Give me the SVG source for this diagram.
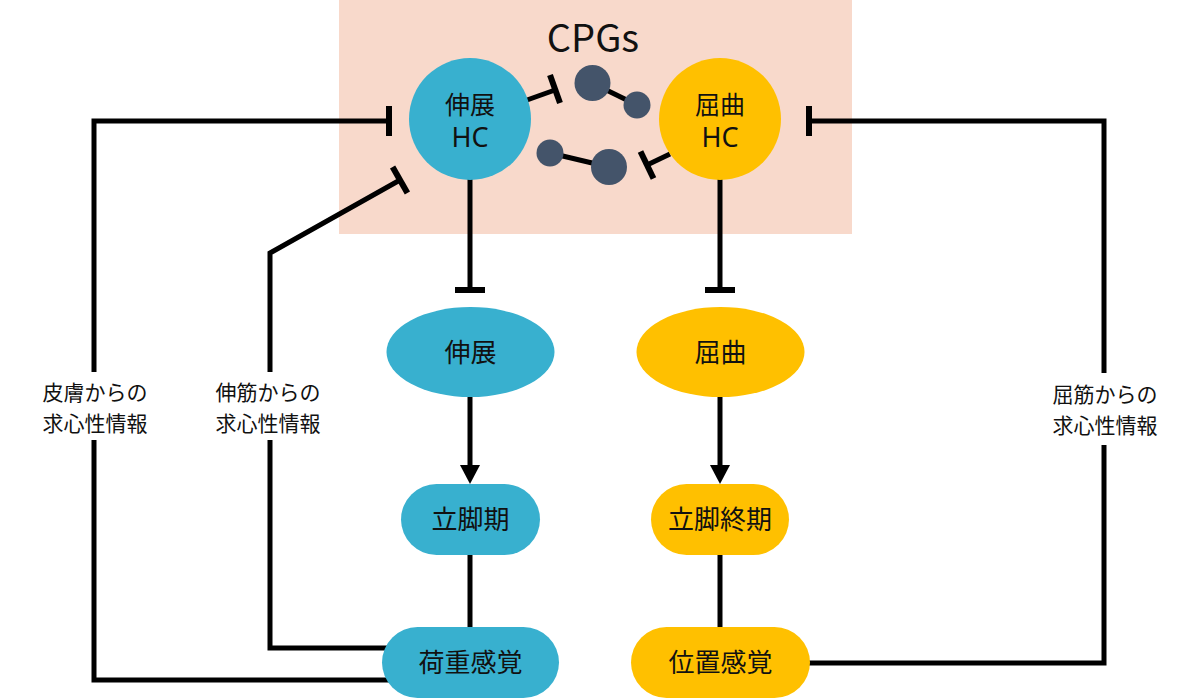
<svg xmlns="http://www.w3.org/2000/svg" width="1200" height="699" viewBox="0 0 1200 699">
<defs>
<style>
.ln{fill:none;stroke:#000;stroke-width:5;stroke-linejoin:miter}
.bar{stroke:#000;stroke-width:6}
.blue{fill:#38B0CF}
.yel{fill:#FFC000}
.dot{fill:#44546A}
.t{font-family:"Noto Sans CJK JP","Noto Sans",sans-serif;fill:#111;text-anchor:middle}
.nt{font-size:26px}
.lb{font-size:21px}
.hc{font-family:"Noto Sans","Noto Sans CJK JP",sans-serif;font-size:27px}
</style>
</defs>
<rect x="0" y="0" width="1200" height="699" fill="#fff"/>
<rect id="cpg-box" x="339" y="0" width="513" height="234" fill="#F8D9CB"/>
<text class="t" x="593" y="52" font-size="38" font-family="Noto Sans, sans-serif">CPGs</text>

<g id="connectors">
<line class="ln" x1="470" y1="179" x2="470" y2="290"/>
<line class="bar" x1="455" y1="290" x2="485" y2="290"/>
<line class="ln" x1="720" y1="179" x2="720" y2="290"/>
<line class="bar" x1="705" y1="290" x2="735" y2="290"/>
<line class="ln" x1="470" y1="397" x2="470" y2="466"/>
<path d="M460,465 L480,465 L470,484 z" fill="#000"/>
<line class="ln" x1="720" y1="397" x2="720" y2="466"/>
<path d="M710,465 L730,465 L720,484 z" fill="#000"/>
<line class="ln" x1="470" y1="555" x2="470" y2="628"/>
<line class="ln" x1="720" y1="555" x2="720" y2="628"/>
<polyline class="ln" points="395,680 94,680 94,121 389,121"/>
<line class="bar" x1="389" y1="106" x2="389" y2="136"/>
<polyline class="ln" points="395,648 270,648 270,253 400,180"/>
<line class="bar" x1="392.6" y1="167" x2="407.4" y2="193"/>
<polyline class="ln" points="800,663 1104,663 1104,121 809,121"/>
<line class="bar" x1="809" y1="106" x2="809" y2="136"/>
<line class="ln" x1="527" y1="100" x2="555" y2="90"/>
<line class="bar" x1="550" y1="75" x2="560" y2="103"/>
<line class="ln" x1="670" y1="154" x2="647" y2="165"/>
<line class="bar" x1="640.5" y1="151.5" x2="653.5" y2="178.5"/>
</g>

<g id="cpg-dots">
<line class="ln" x1="592" y1="83" x2="637" y2="105"/>
<circle class="dot" cx="592.5" cy="83" r="18"/>
<circle class="dot" cx="637" cy="105" r="13.5"/>
<line class="ln" x1="550" y1="153" x2="609" y2="167"/>
<circle class="dot" cx="550" cy="153" r="13.5"/>
<circle class="dot" cx="609" cy="167" r="18"/>
</g>

<g id="ext-hc">
<circle class="blue" cx="470" cy="119" r="61"/>
<text class="t" x="470" y="114" font-size="25">伸展</text>
<text class="t hc" x="470" y="147">HC</text>
</g>
<g id="flex-hc">
<circle class="yel" cx="720" cy="119" r="61"/>
<text class="t" x="720" y="114" font-size="25">屈曲</text>
<text class="t hc" x="720" y="147">HC</text>
</g>

<g id="extension">
<ellipse class="blue" cx="470.5" cy="352" rx="84" ry="45"/>
<text class="t nt" x="470.5" y="362">伸展</text>
</g>
<g id="flexion">
<ellipse class="yel" cx="720.5" cy="352" rx="84" ry="45"/>
<text class="t nt" x="720.5" y="362">屈曲</text>
</g>
<g id="stance">
<rect class="blue" x="401" y="484" width="139" height="71" rx="35.5"/>
<text class="t nt" x="470.5" y="529">立脚期</text>
</g>
<g id="late-stance">
<rect class="yel" x="651" y="484" width="138" height="71" rx="35.5"/>
<text class="t nt" x="720" y="529">立脚終期</text>
</g>
<g id="load">
<rect class="blue" x="382" y="627" width="177" height="71" rx="35.5"/>
<text class="t nt" x="470.5" y="672">荷重感覚</text>
</g>
<g id="position">
<rect class="yel" x="631" y="627" width="179" height="71" rx="35.5"/>
<text class="t nt" x="720.5" y="672">位置感覚</text>
</g>

<g id="label-skin">
<rect x="30" y="372" width="130" height="68" fill="#fff"/>
<text class="t lb" x="95" y="400">皮膚からの</text>
<text class="t lb" x="95" y="431">求心性情報</text>
</g>
<g id="label-ext">
<rect x="205" y="372" width="130" height="68" fill="#fff"/>
<text class="t lb" x="268" y="400">伸筋からの</text>
<text class="t lb" x="268" y="431">求心性情報</text>
</g>
<g id="label-flex">
<rect x="1040" y="373" width="130" height="72" fill="#fff"/>
<text class="t lb" x="1105" y="402">屈筋からの</text>
<text class="t lb" x="1105" y="433">求心性情報</text>
</g>
</svg>
